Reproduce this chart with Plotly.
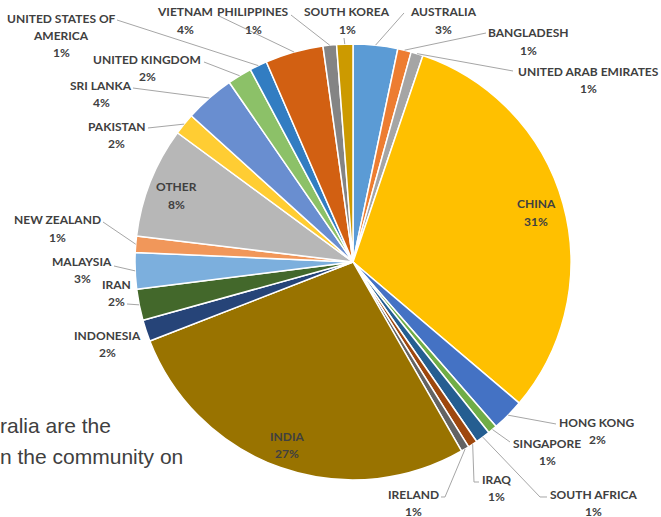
import math
import plotly.graph_objects as go

# ---------------- data ----------------
countries = ["AUSTRALIA", "BANGLADESH", "UNITED ARAB EMIRATES", "CHINA", "HONG KONG",
             "SINGAPORE", "SOUTH AFRICA", "IRAQ", "IRELAND", "INDIA", "INDONESIA",
             "IRAN", "MALAYSIA", "NEW ZEALAND", "OTHER", "PAKISTAN", "SRI LANKA",
             "UNITED KINGDOM", "UNITED STATES OF AMERICA", "VIETNAM", "PHILIPPINES",
             "SOUTH KOREA"]
shares = [3.3, 1.0, 0.9, 31.0, 2.4, 0.7, 1.1, 0.7, 0.6, 27.4, 1.6,
          2.3, 2.7, 1.2, 8.2, 1.6, 3.7, 1.8, 1.3, 4.3, 1.0, 1.2]
colors = ["#5B9BD5", "#ED7D31", "#A5A5A5", "#FFC000", "#4472C4", "#70AD47",
          "#255E91", "#9E480E", "#636363", "#997300", "#264478", "#43682B",
          "#7CAFDD", "#F1975A", "#B7B7B7", "#FFCD33", "#698ED0", "#8CC168",
          "#327DC2", "#D26012", "#848484", "#CC9A00"]
caption_lines = ["ralia are the", "n the community on"]

# ---------------- layout (pixels) ----------------
W, H = 661, 517
CX, CY, R = 353, 262, 218
WRAP = {"UNITED STATES OF AMERICA": ["UNITED STATES OF", "AMERICA"]}
# name: (text centre x, first line centre y, leader waypoints or None)
LABELS = {
    "UNITED STATES OF AMERICA": (61, 18, [(117, 20)]),
    "VIETNAM": (185, 12, [(219, 16)]),
    "PHILIPPINES": (253, 12, [(291, 15)]),
    "SOUTH KOREA": (347, 12, [(344, 38)]),
    "AUSTRALIA": (443, 12, [(404, 13)]),
    "BANGLADESH": (528, 33, [(486, 33)]),
    "UNITED ARAB EMIRATES": (588, 71, [(513, 71)]),
    "CHINA": (536, 204, None),
    "HONG KONG": (597, 422, [(556, 424)]),
    "SINGAPORE": (547, 443, [(510, 442)]),
    "SOUTH AFRICA": (593, 494, [(547, 497), (540, 497)]),
    "IRAQ": (496, 479, [(479, 482), (474, 482)]),
    "IRELAND": (413, 494, [(441, 497), (445, 497)]),
    "INDIA": (287, 436, None),
    "INDONESIA": (107, 335, None),
    "IRAN": (116, 284, [(127, 304)]),
    "MALAYSIA": (82, 261, [(114, 266)]),
    "NEW ZEALAND": (57, 220, [(103, 222)]),
    "OTHER": (176, 187, None),
    "PAKISTAN": (116, 126, [(148, 128)]),
    "SRI LANKA": (101, 85, [(133, 88)]),
    "UNITED KINGDOM": (147, 59, [(204, 62)]),
}
LINE_GAP = 17.5
LABEL_FONT = dict(family="Lato", size=12, color="#404040")


def px(x):
    return x / W


def py(y):
    return 1 - y / H


fig = go.Figure(go.Pie(
    labels=countries, values=shares, sort=False, direction="clockwise",
    rotation=0, marker=dict(colors=colors, line=dict(color="white", width=1.5)),
    textinfo="none", hoverinfo="label+percent", showlegend=False,
    domain=dict(x=[px(CX - R), px(CX + R)], y=[py(CY + R), py(CY - R)]),
))

total = sum(shares)
cum = 0.0
annotations = []
shapes = []
for name, v in zip(countries, shares):
    mid = (cum + v / 2) / total * 2 * math.pi
    cum += v
    ex, ey = CX + R * math.sin(mid), CY - R * math.cos(mid)
    tx, ty, leader = LABELS[name]
    lines = WRAP.get(name, [name]) + ["%d%%" % round(v / total * 100)]
    for i, t in enumerate(lines):
        annotations.append(dict(
            x=px(tx), y=py(ty + i * LINE_GAP), xref="paper", yref="paper",
            text="<b>%s</b>" % t, showarrow=False, font=LABEL_FONT,
            xanchor="center", yanchor="middle"))
    if leader:
        pts = list(leader) + [(ex, ey)]
        path = "M %f %f " % (px(pts[0][0]), py(pts[0][1])) + " ".join(
            "L %f %f" % (px(a), py(b)) for a, b in pts[1:])
        shapes.append(dict(type="path", path=path, xref="paper", yref="paper",
                           line=dict(color="#A6A6A6", width=1)))

for i, t in enumerate(caption_lines):
    annotations.append(dict(
        x=px(-2), y=py(425 + i * 31), xref="paper", yref="paper", text=t,
        showarrow=False, xanchor="left", yanchor="middle",
        font=dict(family="Liberation Sans", size=21, color="#404040")))

fig.update_layout(
    width=W, height=H, margin=dict(l=0, r=0, t=0, b=0),
    paper_bgcolor="white", plot_bgcolor="white",
    annotations=annotations, shapes=shapes,
)
fig.write_html(
    "out.html",
    config={"displayModeBar": False},
    post_script="document.body.style.margin='0px';document.body.style.overflow='hidden';",
)
